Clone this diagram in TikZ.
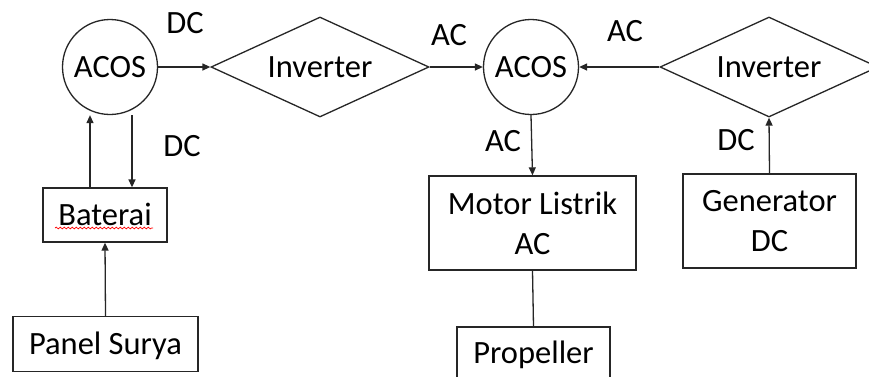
\documentclass[tikz,border=0pt]{standalone}
\usepackage{fontspec}
\setmainfont{Carlito}
\usetikzlibrary{shapes.geometric,arrows.meta,decorations.pathmorphing}

\tikzset{
  base/.style={draw=black!85, line width=1.3pt, inner sep=0pt,
    font=\fontsize{32.5}{40}\selectfont},
  hub/.style={base, circle, minimum size=95pt, text height=21pt, text depth=0pt},
  conv/.style={base, diamond, shape aspect=2.2, minimum width=218pt,
    minimum height=100pt, text height=21pt, text depth=0pt},
  unit/.style={base, rectangle, text height=21pt, text depth=0pt},
  unit2/.style={base, rectangle, align=center},
  tag/.style={inner sep=0pt, font=\fontsize{32.5}{40}\selectfont,
    text height=21pt, text depth=0pt},
  flow/.style={draw=black!85, line width=1.3pt, -{Triangle[length=8pt,width=7pt]}},
  link/.style={draw=black!85, line width=1.3pt}
}

\begin{document}
\begin{tikzpicture}[x=1pt, y=-1pt]
  \useasboundingbox (0,0) rectangle (869,376);
  \fill[white] (0,0) rectangle (869,376);
  \clip (0,0) rectangle (869,376);

  % converters and switching hubs
  \node[hub]  (acos1) at (110,67)  {ACOS};
  \node[conv] (inv1)  at (320,67)  {Inverter};
  \node[hub]  (acos2) at (531,67)  {ACOS};
  \node[conv] (inv2)  at (769,67)  {Inverter};

  % storage and sources
  \node[unit, minimum width=124pt, minimum height=54pt] (bat)   at (105,215)   {Baterai};
  \node[unit, minimum width=185pt, minimum height=55pt] (panel) at (105.5,344) {Panel Surya};
  \node[unit2, minimum width=207pt, minimum height=94pt] (motor) at (532.5,223) {Motor Listrik\\AC};
  \node[unit2, minimum width=173pt, minimum height=94pt] (gen)   at (769.5,221) {Generator\\DC};
  \node[unit, minimum width=153pt, minimum height=52pt] (prop)  at (533.5,353) {Propeller};

  % spell-check underline under the battery label
  \draw[red, line width=0.7pt, decorate,
        decoration={snake, amplitude=0.9pt, segment length=4pt}]
        (55,228) -- (153,228);

  % power flow
  \draw[flow] (acos1.east) -- (inv1.west);
  \draw[flow] (inv1.east) -- (acos2.west);
  \draw[flow] (inv2.west) -- (acos2.east);
  \draw[flow] (acos2.south) -- (motor.north);
  \draw[flow] (gen.north) -- (inv2.south);
  \draw[flow] ([xshift=-15pt]bat.north) -- ([xshift=-20pt]acos1.south);
  \draw[flow] ([xshift=22pt]acos1.south) -- ([xshift=27pt]bat.north);
  \draw[flow] (panel.north) -- (bat.south);
  \draw[link] (motor.south) -- (prop.north);

  % current type labels
  \node[tag] (l1) at (185,23)  {DC};
  \node[tag] (l2) at (182,146) {DC};
  \node[tag] (l3) at (449,35)  {AC};
  \node[tag] (l4) at (625,31)  {AC};
  \node[tag] (l5) at (503,141) {AC};
  \node[tag] (l6) at (736,140) {DC};
\end{tikzpicture}
\end{document}
